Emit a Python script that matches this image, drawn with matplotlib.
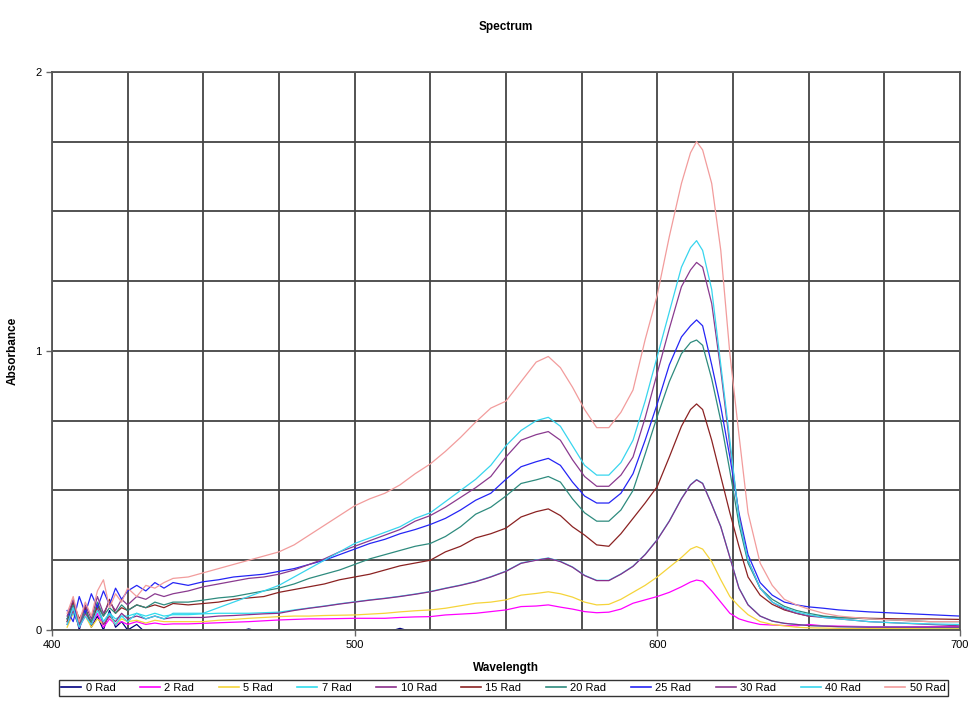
import numpy as np
import matplotlib
matplotlib.use("Agg")
import matplotlib.pyplot as plt

#---------------------------------------
# donnees lues sur le spectre
#---------------------------------------
longueurs = [405, 407, 409, 411, 413, 415, 417, 419, 421, 423, 425, 428, 431, 434, 437, 440,
             445, 450, 455, 460, 465, 470, 475, 480, 485, 490, 495, 500, 505, 510, 515, 520,
             525, 530, 535, 540, 545, 550, 555, 560,
             564, 568, 572, 576, 580, 584, 588, 592, 596, 600, 604, 608,
             611, 613, 615, 618, 621, 624, 627, 630,
             634, 638, 642, 646, 650,
             655, 660, 670, 680, 690, 700]

rad0 = [0.04, 0.10, 0.00, 0.08, 0.01, 0.05, 0.00, 0.07, 0.01, 0.03, 0.00, 0.02, -0.01, 0.00, -0.01, -0.01,
        -0.01, -0.01, -0.01, -0.01, 0.004, -0.01, -0.01, -0.01, -0.01, -0.01, -0.01, -0.01, -0.01, -0.01, 0.006, -0.01,
        -0.01, -0.01, -0.01, -0.01, -0.01, -0.01, -0.01, -0.01,
        -0.01, -0.01, -0.01, -0.01, -0.01, -0.01, -0.01, -0.01, -0.01, -0.01, -0.01, -0.01,
        -0.01, -0.01, -0.01, -0.01, -0.01, -0.01, -0.01, -0.01,
        -0.01, -0.01, -0.01, -0.01, -0.01,
        -0.01, -0.01, -0.01, -0.01, -0.01, -0.01]

rad2 = [0.03, 0.09, 0.01, 0.05, 0.02, 0.06, 0.01, 0.04, 0.02, 0.03, 0.02, 0.03, 0.02, 0.025, 0.02, 0.022,
        0.022, 0.024, 0.026, 0.028, 0.030, 0.033, 0.036, 0.038, 0.040, 0.040, 0.041, 0.042, 0.042, 0.042, 0.045, 0.047,
        0.048, 0.054, 0.057, 0.060, 0.066, 0.072, 0.084, 0.086,
        0.090, 0.082, 0.075, 0.066, 0.062, 0.064, 0.075, 0.096, 0.108, 0.120, 0.135, 0.155,
        0.172, 0.179, 0.175, 0.140, 0.100, 0.060, 0.040, 0.030,
        0.020, 0.018, 0.016, 0.015, 0.020,
        0.015, 0.014, 0.012, 0.012, 0.012, 0.012]

rad5 = [0.01, 0.06, 0.02, 0.05, 0.01, 0.04, 0.02, 0.05, 0.02, 0.04, 0.03, 0.035, 0.025, 0.035, 0.03, 0.03,
        0.030, 0.030, 0.035, 0.038, 0.042, 0.045, 0.048, 0.050, 0.050, 0.052, 0.053, 0.054, 0.057, 0.060, 0.065, 0.069,
        0.072, 0.078, 0.087, 0.096, 0.100, 0.108, 0.125, 0.131,
        0.137, 0.130, 0.118, 0.100, 0.090, 0.092, 0.110, 0.135, 0.160, 0.190, 0.225, 0.260,
        0.290, 0.299, 0.290, 0.245, 0.180, 0.120, 0.085, 0.055,
        0.030, 0.020, 0.015, 0.010, 0.008,
        0.007, 0.006, 0.005, 0.005, 0.005, 0.005]

rad7 = [0.03, 0.06, 0.02, 0.07, 0.02, 0.09, 0.03, 0.06, 0.04, 0.05, 0.05, 0.06, 0.05, 0.06, 0.05, 0.055,
        0.055, 0.058, 0.060, 0.060, 0.060, 0.062, 0.064, 0.072, 0.079, 0.086, 0.094, 0.101, 0.108, 0.114, 0.121, 0.129,
        0.138, 0.150, 0.161, 0.174, 0.191, 0.211, 0.240, 0.251,
        0.258, 0.246, 0.226, 0.196, 0.178, 0.178, 0.201, 0.229, 0.271, 0.324, 0.391, 0.471,
        0.521, 0.539, 0.526, 0.451, 0.371, 0.261, 0.151, 0.091,
        0.050, 0.032, 0.024, 0.020, 0.016,
        0.014, 0.012, 0.010, 0.010, 0.009, 0.009]

rad10 = [0.02, 0.07, 0.01, 0.06, 0.03, 0.08, 0.02, 0.05, 0.03, 0.06, 0.04, 0.05, 0.04, 0.05, 0.04, 0.045,
         0.045, 0.045, 0.050, 0.052, 0.055, 0.058, 0.060, 0.070, 0.078, 0.085, 0.093, 0.100, 0.107, 0.113, 0.120, 0.128,
         0.137, 0.149, 0.160, 0.173, 0.190, 0.210, 0.239, 0.250,
         0.257, 0.245, 0.225, 0.195, 0.177, 0.177, 0.200, 0.228, 0.270, 0.323, 0.390, 0.470,
         0.520, 0.538, 0.525, 0.450, 0.370, 0.260, 0.150, 0.090,
         0.050, 0.032, 0.024, 0.020, 0.016,
         0.014, 0.012, 0.010, 0.010, 0.010, 0.010]

rad15 = [0.03, 0.10, 0.04, 0.08, 0.02, 0.09, 0.05, 0.11, 0.06, 0.08, 0.07, 0.09, 0.08, 0.09, 0.08, 0.095,
         0.090, 0.095, 0.100, 0.110, 0.115, 0.120, 0.135, 0.145, 0.155, 0.165, 0.180, 0.190, 0.200, 0.215, 0.230, 0.240,
         0.250, 0.280, 0.300, 0.330, 0.345, 0.365, 0.405, 0.424,
         0.434, 0.410, 0.370, 0.340, 0.305, 0.300, 0.345, 0.400, 0.455, 0.514, 0.620, 0.730,
         0.790, 0.810, 0.790, 0.680, 0.550, 0.420, 0.300, 0.190,
         0.125, 0.092, 0.072, 0.060, 0.050,
         0.048, 0.045, 0.042, 0.040, 0.040, 0.038]

rad20 = [0.04, 0.09, 0.02, 0.07, 0.03, 0.10, 0.05, 0.08, 0.06, 0.09, 0.07, 0.09, 0.08, 0.10, 0.09, 0.10,
         0.100, 0.107, 0.115, 0.120, 0.130, 0.140, 0.150, 0.165, 0.185, 0.200, 0.215, 0.235, 0.255, 0.270, 0.285, 0.300,
         0.310, 0.335, 0.370, 0.415, 0.440, 0.480, 0.525, 0.538,
         0.550, 0.530, 0.470, 0.420, 0.390, 0.390, 0.430, 0.500, 0.630, 0.765, 0.890, 0.990,
         1.030, 1.039, 1.020, 0.900, 0.750, 0.570, 0.380, 0.240,
         0.150, 0.110, 0.085, 0.070, 0.060,
         0.050, 0.045, 0.040, 0.035, 0.030, 0.030]

rad25 = [0.07, 0.03, 0.12, 0.06, 0.13, 0.08, 0.14, 0.09, 0.15, 0.11, 0.14, 0.16, 0.14, 0.17, 0.15, 0.17,
         0.160, 0.173, 0.180, 0.190, 0.195, 0.200, 0.210, 0.220, 0.235, 0.250, 0.270, 0.290, 0.310, 0.325, 0.345, 0.360,
         0.378, 0.400, 0.430, 0.465, 0.490, 0.540, 0.585, 0.603,
         0.615, 0.590, 0.530, 0.480, 0.455, 0.455, 0.490, 0.560, 0.680, 0.810, 0.950, 1.050,
         1.090, 1.111, 1.090, 0.950, 0.800, 0.620, 0.420, 0.270,
         0.170, 0.125, 0.100, 0.090, 0.083,
         0.078, 0.072, 0.065, 0.060, 0.055, 0.050]

rad30 = [0.05, 0.11, 0.02, 0.09, 0.04, 0.12, 0.06, 0.10, 0.07, 0.11, 0.09, 0.12, 0.11, 0.13, 0.12, 0.13,
         0.140, 0.155, 0.165, 0.175, 0.185, 0.190, 0.200, 0.215, 0.235, 0.255, 0.280, 0.300, 0.320, 0.340, 0.360, 0.390,
         0.410, 0.440, 0.475, 0.510, 0.550, 0.620, 0.680, 0.700,
         0.711, 0.680, 0.610, 0.550, 0.515, 0.515, 0.555, 0.620, 0.760, 0.920, 1.080, 1.230,
         1.290, 1.317, 1.300, 1.170, 0.930, 0.660, 0.410, 0.250,
         0.150, 0.100, 0.075, 0.060, 0.050,
         0.045, 0.040, 0.030, 0.025, 0.020, 0.015]

rad40 = [0.02, 0.08, 0.01, 0.05, 0.02, 0.07, 0.03, 0.06, 0.02, 0.05, 0.03, 0.06, 0.04, 0.05, 0.04, 0.06,
         0.060, 0.060, 0.080, 0.100, 0.120, 0.140, 0.160, 0.190, 0.220, 0.250, 0.280, 0.310, 0.330, 0.350, 0.370, 0.400,
         0.420, 0.460, 0.500, 0.540, 0.590, 0.660, 0.715, 0.750,
         0.762, 0.730, 0.660, 0.590, 0.555, 0.555, 0.600, 0.680, 0.820, 0.980, 1.140, 1.300,
         1.370, 1.395, 1.360, 1.220, 0.950, 0.680, 0.400, 0.250,
         0.150, 0.100, 0.080, 0.065, 0.055,
         0.045, 0.040, 0.030, 0.025, 0.022, 0.020]

rad50 = [0.06, 0.12, 0.03, 0.10, 0.05, 0.14, 0.18, 0.08, 0.13, 0.10, 0.15, 0.12, 0.16, 0.15, 0.17, 0.185,
         0.190, 0.205, 0.220, 0.235, 0.250, 0.265, 0.280, 0.305, 0.340, 0.375, 0.410, 0.445, 0.470, 0.490, 0.520, 0.560,
         0.595, 0.640, 0.690, 0.745, 0.795, 0.820, 0.890, 0.960,
         0.980, 0.940, 0.870, 0.790, 0.725, 0.725, 0.780, 0.860, 1.040, 1.200, 1.410, 1.600,
         1.710, 1.750, 1.720, 1.600, 1.360, 0.990, 0.700, 0.420,
         0.240, 0.160, 0.110, 0.090, 0.075,
         0.060, 0.050, 0.040, 0.035, 0.030, 0.030]

noms = ["0 Rad", "2 Rad", "5 Rad", "7 Rad", "10 Rad", "15 Rad",
        "20 Rad", "25 Rad", "30 Rad", "40 Rad", "50 Rad"]
series = [rad0, rad2, rad5, rad7, rad10, rad15, rad20, rad25, rad30, rad40, rad50]
couleurs = ["#000080", "#FF00FF", "#F5D43A", "#30DDEE", "#8A2D8A", "#8B2222",
            "#2E8B7E", "#2525F5", "#8A3A8F", "#38D5EE", "#F29C9C"]

#---------------------------------------
# figure
#---------------------------------------
plt.rcParams['font.family'] = ['Liberation Sans', 'DejaVu Sans']

fig = plt.figure(figsize=(9.72, 7.25), dpi=100)
ax = fig.add_axes([0.0535, 0.131, 0.934, 0.770])

for i in range(len(series)):
    ax.plot(longueurs, series[i], color=couleurs[i], lw=0.9, label=noms[i])

ax.set_xlim(400, 700)
ax.set_ylim(0, 2)
ax.set_xticks([400, 500, 600, 700])
ax.set_xticks(np.arange(400, 701, 25), minor=True)
ax.set_yticks([0, 1, 2])
ax.set_yticks(np.arange(0, 2.01, 0.25), minor=True)
ax.grid(True, which='both', color='#444444', lw=1.3)
ax.tick_params(which='minor', length=0)
ax.tick_params(which='major', length=4, width=1, color='#666666', labelsize=8)
for s in ax.spines.values():
    s.set_color('#555555')
    s.set_linewidth(1.3)

ax.set_title("Spectrum", fontsize=8.5, fontweight='bold', pad=30)
ax.set_xlabel("Wavelength", fontsize=8.5, fontweight='bold', labelpad=8)
ax.set_ylabel("Absorbance", fontsize=8.5, fontweight='bold', labelpad=12)

#---------------------------------------
# legende en bas, sur une ligne
#---------------------------------------
leg = fig.legend(loc='center', bbox_to_anchor=(0.518, 0.051), ncol=11, fontsize=8,
                 frameon=True, fancybox=False, edgecolor='black', handlelength=1.8,
                 handletextpad=0.4, columnspacing=2.2, borderpad=0.25)
for h in leg.get_lines():
    h.set_linewidth(1.2)

fig.savefig("out.png", dpi=100)
